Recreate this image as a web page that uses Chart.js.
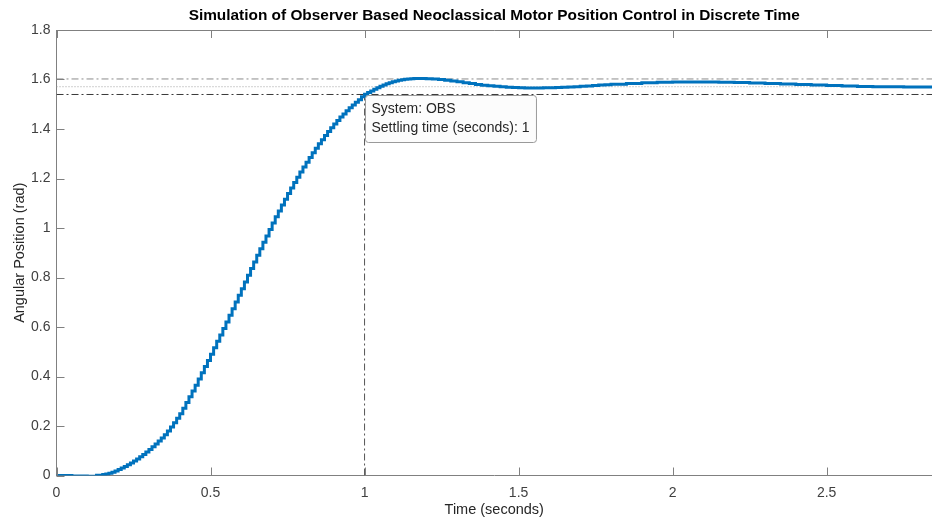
<!DOCTYPE html>
<html>
<head>
<meta charset="utf-8">
<title>Observer Based Motor Position Control</title>
<script src="https://cdn.jsdelivr.net/npm/chart.js@4/dist/chart.umd.min.js"></script>
<style>
  html, body { margin: 0; padding: 0; background: #ffffff; }
  #wrap { width: 932px; height: 519px; }
</style>
</head>
<body>
<div id="wrap"><canvas id="stepChart" width="932" height="519"></canvas></div>
<script>
// sampled step response of the discrete-time observer loop (zero-order hold)
const sampleTime = [
  0, 0.05, 0.10, 0.13,
  0.15, 0.16, 0.17, 0.18, 0.19, 0.20, 0.21, 0.22, 0.23, 0.24,
  0.25, 0.26, 0.27, 0.28, 0.29, 0.30, 0.31, 0.32, 0.33, 0.34,
  0.35, 0.36, 0.37, 0.38, 0.39, 0.40, 0.41, 0.42, 0.43, 0.44,
  0.45, 0.46, 0.47, 0.48, 0.49, 0.50, 0.51, 0.52, 0.53, 0.54,
  0.55, 0.56, 0.57, 0.58, 0.59, 0.60, 0.61, 0.62, 0.63, 0.64,
  0.65, 0.66, 0.67, 0.68, 0.69, 0.70, 0.71, 0.72, 0.73, 0.74,
  0.75, 0.76, 0.77, 0.78, 0.79, 0.80, 0.81, 0.82, 0.83, 0.84,
  0.85, 0.86, 0.87, 0.88, 0.89, 0.90, 0.91, 0.92, 0.93, 0.94,
  0.95, 0.96, 0.97, 0.98, 0.99, 1.00, 1.01, 1.02, 1.03, 1.04,
  1.05, 1.06, 1.07, 1.08, 1.09, 1.10, 1.11, 1.12, 1.13, 1.14,
  1.15, 1.16, 1.17, 1.18, 1.19, 1.20,
  1.22, 1.24, 1.26, 1.28, 1.30, 1.32, 1.34, 1.36, 1.38, 1.40,
  1.42, 1.44, 1.46, 1.48, 1.50, 1.52, 1.54, 1.56, 1.58, 1.60,
  1.62, 1.64, 1.66, 1.68, 1.70, 1.72, 1.74, 1.76, 1.78, 1.80,
  1.85, 1.90, 1.95, 2.00, 2.05, 2.10, 2.15, 2.20,
  2.25, 2.30, 2.35, 2.40, 2.45, 2.50, 2.55, 2.60, 2.65, 2.70,
  2.75, 2.80, 2.85
];
const anglePosition = [
  0, -0.002, -0.003, 0.001,
  0.004, 0.006, 0.009, 0.013, 0.018, 0.024, 0.030, 0.036, 0.043, 0.051,
  0.059, 0.067, 0.076, 0.085, 0.095, 0.105, 0.116, 0.127, 0.139, 0.152,
  0.165, 0.180, 0.196, 0.213, 0.231, 0.250, 0.272, 0.295, 0.318, 0.341,
  0.365, 0.390, 0.415, 0.440, 0.465, 0.490, 0.516, 0.542, 0.568, 0.594,
  0.620, 0.647, 0.674, 0.701, 0.728, 0.755, 0.782, 0.809, 0.836, 0.863,
  0.890, 0.916, 0.942, 0.968, 0.994, 1.020, 1.045, 1.069, 1.093, 1.116,
  1.139, 1.162, 1.184, 1.205, 1.226, 1.246, 1.266, 1.285, 1.304, 1.322,
  1.340, 1.357, 1.374, 1.390, 1.405, 1.420, 1.434, 1.448, 1.461, 1.474,
  1.486, 1.497, 1.508, 1.518, 1.530, 1.540, 1.547, 1.554, 1.561, 1.567,
  1.573, 1.578, 1.583, 1.587, 1.591, 1.594, 1.597, 1.599, 1.601, 1.602,
  1.603, 1.604, 1.604, 1.604, 1.604, 1.603,
  1.602, 1.600, 1.597, 1.594, 1.591, 1.587, 1.584, 1.580, 1.577, 1.575,
  1.573, 1.571, 1.569, 1.568, 1.567, 1.566, 1.566, 1.566, 1.567, 1.567,
  1.568, 1.569, 1.570, 1.571, 1.573, 1.574, 1.576, 1.578, 1.579, 1.581,
  1.584, 1.587, 1.589, 1.590, 1.590, 1.590, 1.589, 1.588,
  1.586, 1.584, 1.582, 1.580, 1.578, 1.576, 1.574, 1.572, 1.571, 1.571,
  1.570, 1.570, 1.570
];

// settling characteristics (2% band around the final value)
const finalValue = 1.5708;
const settleBand = [1.6022, 1.5394];
const settleTime = 1;
const xRange = [0, 2.842];
const yRange = [0, 1.8];
const xStep = 0.5;
const yStep = 0.2;
const tipLines = ['System: OBS', 'Settling time (seconds): 1'];
const chartTitle = 'Simulation of Observer Based Neoclassical Motor Position Control in Discrete Time';

const axisGray = '#808080';
const textGray = '#404040';
const fontFamily = '"Liberation Sans", Arial, Helvetica, sans-serif';

const responsePoints = sampleTime.map((t, i) => ({ x: t, y: anglePosition[i] }));
const hLine = v => [{ x: xRange[0], y: v }, { x: xRange[1], y: v }];
const tickText = v => Number(v.toFixed(1)).toString();

// MATLAB-like box: ticks pointing inward, top border line, title over the axes
const innerTicks = {
    id: 'innerTicks',
    afterDraw(chart) {
        const { ctx, chartArea: a, scales } = chart;
        const len = 8;
        ctx.save();
        ctx.strokeStyle = axisGray;
        ctx.lineWidth = 1;
        ctx.beginPath();
        ctx.moveTo(a.left, a.top + 0.5);
        ctx.lineTo(a.right, a.top + 0.5);
        scales.x.ticks.forEach(t => {
            const px = Math.round(scales.x.getPixelForValue(t.value)) + 0.5;
            ctx.moveTo(px, a.bottom);
            ctx.lineTo(px, a.bottom - len);
            ctx.moveTo(px, a.top);
            ctx.lineTo(px, a.top + len);
        });
        scales.y.ticks.forEach(t => {
            const py = Math.round(scales.y.getPixelForValue(t.value)) + 0.5;
            ctx.moveTo(a.left, py);
            ctx.lineTo(a.left + len, py);
        });
        ctx.stroke();

        ctx.fillStyle = '#000000';
        ctx.font = 'bold 15.4px ' + fontFamily;
        ctx.textAlign = 'center';
        ctx.textBaseline = 'middle';
        ctx.fillText(chartTitle, (a.left + a.right) / 2, 16);
        ctx.restore();
    }
};

// data tip at the settling point
const settleTip = {
    id: 'settleTip',
    afterDatasetsDraw(chart) {
        const { ctx, scales } = chart;
        const px = Math.round(scales.x.getPixelForValue(settleTime));
        const py = Math.round(scales.y.getPixelForValue(settleBand[1]));
        ctx.save();
        ctx.font = '14px ' + fontFamily;
        const w = Math.max(...tipLines.map(s => ctx.measureText(s).width)) + 13;
        const h = 47;
        const x0 = px + 0.5, y0 = py + 1.5;
        ctx.beginPath();
        ctx.roundRect(x0, y0, w, h, 3);
        ctx.fillStyle = 'rgba(252,252,252,0.95)';
        ctx.fill();
        ctx.strokeStyle = '#9a9a9a';
        ctx.lineWidth = 1;
        ctx.stroke();
        ctx.fillStyle = '#262626';
        ctx.textBaseline = 'middle';
        ctx.fillText(tipLines[0], x0 + 6, y0 + 14);
        ctx.fillText(tipLines[1], x0 + 6, y0 + 33);
        ctx.restore();
    }
};

const ctx = document.getElementById('stepChart').getContext('2d');
new Chart(ctx, {
    type: 'line',
    data: {
        datasets: [
            {
                label: 'OBS',
                data: responsePoints,
                borderColor: '#0072BD',
                borderWidth: 3,
                stepped: true,
                pointRadius: 0,
                order: 0
            },
            {
                label: 'upper band',
                data: hLine(settleBand[0]),
                borderColor: '#8c8c8c',
                borderWidth: 1,
                borderDash: [7, 3, 2, 3],
                pointRadius: 0,
                order: 1
            },
            {
                label: 'final value',
                data: hLine(finalValue),
                borderColor: '#a0a0a0',
                borderWidth: 1,
                borderDash: [1, 2],
                pointRadius: 0,
                order: 2
            },
            {
                label: 'lower band',
                data: hLine(settleBand[1]),
                borderColor: '#3a3a3a',
                borderWidth: 1,
                borderDash: [7, 3, 2, 3],
                pointRadius: 0,
                order: 3
            },
            {
                label: 'settling time',
                data: [{ x: settleTime, y: yRange[0] }, { x: settleTime, y: settleBand[1] }],
                borderColor: '#555555',
                borderWidth: 1,
                borderDash: [7, 3, 2, 3],
                pointRadius: 0,
                order: 4
            }
        ]
    },
    options: {
        responsive: false,
        animation: false,
        events: [],
        layout: { padding: { left: 0, right: 0, top: 30, bottom: 0 } },
        plugins: {
            legend: { display: false },
            tooltip: { enabled: false },
            title: { display: false }
        },
        scales: {
            x: {
                type: 'linear',
                min: xRange[0],
                max: xRange[1],
                grid: { display: false, drawTicks: false },
                border: { display: true, color: axisGray, width: 1 },
                ticks: {
                    stepSize: xStep,
                    includeBounds: false,
                    padding: 9,
                    color: textGray,
                    font: { family: fontFamily, size: 14 },
                    maxRotation: 0,
                    callback: tickText
                },
                title: {
                    display: true,
                    text: 'Time (seconds)',
                    color: '#262626',
                    font: { family: fontFamily, size: 14.5 },
                    padding: { top: 1, bottom: 0 }
                },
                afterFit(scale) { scale.height = 43.5; }
            },
            y: {
                type: 'linear',
                min: yRange[0],
                max: yRange[1],
                grid: { display: false, drawTicks: false },
                border: { display: true, color: axisGray, width: 1 },
                ticks: {
                    stepSize: yStep,
                    padding: 6,
                    color: textGray,
                    font: { family: fontFamily, size: 14 },
                    callback: tickText
                },
                title: {
                    display: true,
                    text: 'Angular Position (rad)',
                    color: '#262626',
                    font: { family: fontFamily, size: 14.5 },
                    padding: { top: 11, bottom: 0 }
                },
                afterFit(scale) { scale.width = 56.5; }
            }
        }
    },
    plugins: [innerTicks, settleTip]
});
</script>
</body>
</html>
